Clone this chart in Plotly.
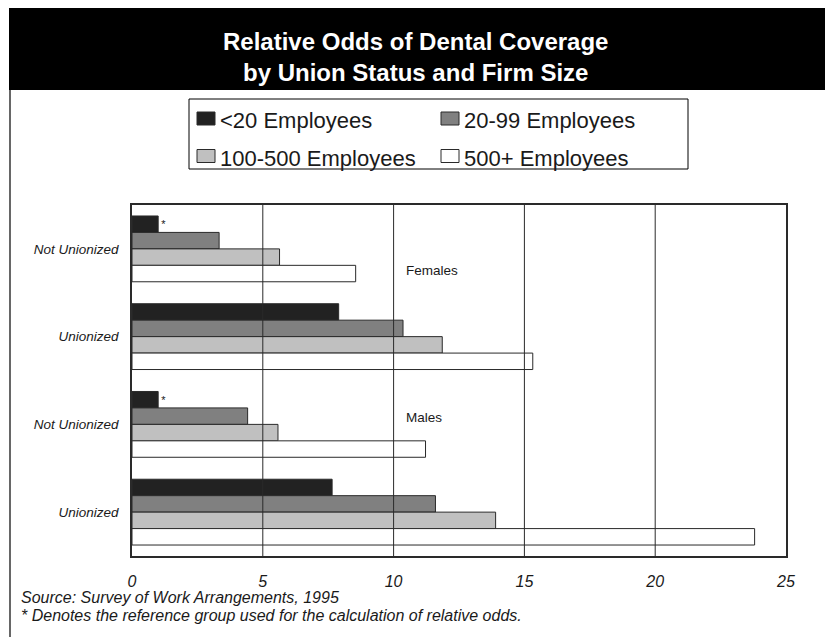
import plotly.graph_objects as go

# ---- data -----------------------------------------------------------------
group_keys = ["F-NU", "F-U", "M-NU", "M-U"]
group_labels = ["Not Unionized", "Unionized", "Not Unionized", "Unionized"]

firm_sizes = ["<20 Employees", "20-99 Employees", "100-500 Employees", "500+ Employees"]
fill_colors = ["#222222", "#808080", "#c0c0c0", "#ffffff"]

odds_lt20 = [1.0, 7.9, 1.0, 7.65]
odds_20_99 = [3.33, 10.36, 4.42, 11.6]
odds_100_500 = [5.64, 11.86, 5.58, 13.9]
odds_500plus = [8.55, 15.32, 11.22, 23.8]
reference_marks = ["*", "", "*", ""]

x_ticks = [0, 5, 10, 15, 20, 25]
x_range = [0, 25]

title_text = "Relative Odds of Dental Coverage<br>by Union Status and Firm Size"
source_text = "Source: Survey of Work Arrangements, 1995"
note_text = "* Denotes the reference group used for the calculation of relative odds."

# ---- page geometry (pixels) ----------------------------------------------
W, H = 825, 637
L, R, T, B = 132, 786, 205, 556
PW, PH = R - L, B - T

FONT = "Liberation Sans, Arial, Helvetica, sans-serif"
INK = "#1a1a1a"


def px(xp):
    return (xp - L) / PW


def py(yp):
    return (B - yp) / PH


series = [odds_lt20, odds_20_99, odds_100_500, odds_500plus]

fig = go.Figure()
for i, (name, vals, col) in enumerate(zip(firm_sizes, series, fill_colors)):
    fig.add_trace(go.Bar(
        name=name,
        y=group_keys,
        x=vals,
        orientation="h",
        marker=dict(color=col, line=dict(color="#2a2a2a", width=1)),
        text=reference_marks if i == 0 else None,
        textposition="outside" if i == 0 else None,
        textfont=dict(family=FONT, size=11, color=INK),
        cliponaxis=False,
        showlegend=False,
        hoverinfo="x+name",
    ))

shapes = []
annotations = []

# black title band and left page rule
shapes.append(dict(type="rect", xref="paper", yref="paper",
                   x0=px(9), x1=px(825), y0=py(90), y1=py(8),
                   fillcolor="black", line=dict(width=0), layer="below"))
shapes.append(dict(type="line", xref="paper", yref="paper",
                   x0=px(10), x1=px(10), y0=py(90), y1=py(637),
                   line=dict(color="black", width=1.2)))

# vertical gridlines drawn over the bars
for v in x_ticks[1:-1]:
    shapes.append(dict(type="line", xref="x", yref="paper",
                       x0=v, x1=v, y0=0, y1=1,
                       line=dict(color="#2a2a2a", width=1), layer="above"))

annotations.append(dict(text=title_text, xref="paper", yref="paper",
                        x=px(415), y=py(57), xanchor="center", yanchor="middle",
                        showarrow=False,
                        font=dict(family=FONT, size=24, color="white", weight="bold")))

# legend box
shapes.append(dict(type="rect", xref="paper", yref="paper",
                   x0=px(189), x1=px(688), y0=py(169), y1=py(99),
                   fillcolor="white", line=dict(color="black", width=1)))
leg_cols = [197, 441]
leg_rows = [120.5, 158]
for i, (name, col) in enumerate(zip(firm_sizes, fill_colors)):
    cx = leg_cols[i % 2]
    cy = leg_rows[i // 2]
    shapes.append(dict(type="rect", xref="paper", yref="paper",
                       x0=px(cx), x1=px(cx + 18), y0=py(cy + 4.5), y1=py(cy - 8.5),
                       fillcolor=col, line=dict(color="#2a2a2a", width=1)))
    annotations.append(dict(text=name, xref="paper", yref="paper",
                            x=px(cx + 21), y=py(cy), xanchor="left", yanchor="middle",
                            showarrow=False,
                            font=dict(family=FONT, size=22, color=INK)))

# panel labels
annotations.append(dict(text="Females", xref="x", yref="y", x=10.4, y=0.25,
                        xanchor="left", yanchor="middle", showarrow=False,
                        font=dict(family=FONT, size=13.5, color=INK)))
annotations.append(dict(text="Males", xref="x", yref="y", x=10.4, y=1.92,
                        xanchor="left", yanchor="middle", showarrow=False,
                        font=dict(family=FONT, size=13.5, color=INK)))

# footnotes
annotations.append(dict(text="<i>" + source_text + "</i>", xref="paper", yref="paper",
                        x=px(19), y=py(597), xanchor="left", yanchor="middle",
                        showarrow=False, font=dict(family=FONT, size=16, color=INK)))
annotations.append(dict(text="<i>" + note_text + "</i>", xref="paper", yref="paper",
                        x=px(19), y=py(615), xanchor="left", yanchor="middle",
                        showarrow=False, font=dict(family=FONT, size=16, color=INK)))

fig.update_layout(
    width=W, height=H, autosize=False,
    margin=dict(l=L, r=W - R, t=T, b=H - B, pad=0),
    paper_bgcolor="white", plot_bgcolor="white",
    barmode="group", bargap=0.25, bargroupgap=0,
    shapes=shapes, annotations=annotations,
    showlegend=False,
    font=dict(family=FONT, color=INK),
)
fig.update_xaxes(
    range=x_range, tickvals=x_ticks, showgrid=False, zeroline=False,
    showline=True, mirror=True, linecolor="#2a2a2a", linewidth=1.5,
    ticks="", ticklabelstandoff=10,
    tickfont=dict(family=FONT, size=16, color=INK, style="italic"),
)
fig.update_yaxes(
    categoryorder="array", categoryarray=group_keys, autorange="reversed",
    tickvals=group_keys, ticktext=group_labels, showgrid=False, zeroline=False,
    showline=True, mirror=True, linecolor="#2a2a2a", linewidth=1.5,
    ticks="", ticklabelstandoff=9,
    tickfont=dict(family=FONT, size=13.5, color=INK, style="italic"),
)

fig.write_html("out.html")
